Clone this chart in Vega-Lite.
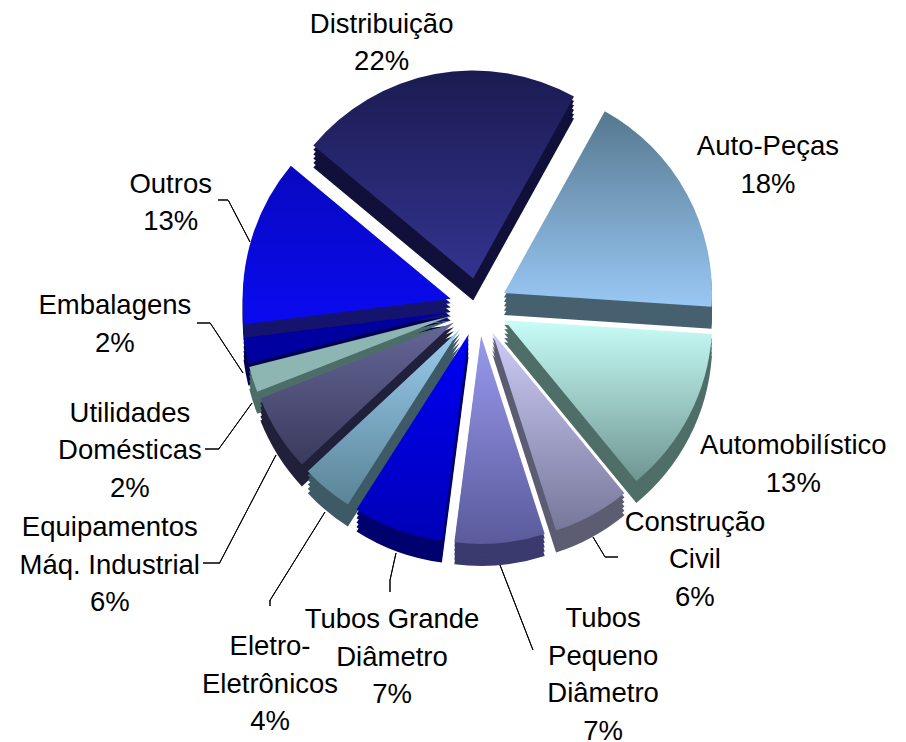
{"$schema":"https://vega.github.io/schema/vega-lite/v6.json","width":855,"height":614,"autosize":{"type":"none"},"padding":{"left":51,"top":0,"right":0,"bottom":128},"background":"white","view":{"stroke":null},
"data":{"values":[{"setor":"Auto-Peças","rotulo":"Auto-Peças","pct":18,"ordem":1},{"setor":"Automobilístico","rotulo":"Automobilístico","pct":13,"ordem":2},{"setor":"Construção Civil","rotulo":"Construção\nCivil","pct":6,"ordem":3},{"setor":"Tubos Pequeno Diâmetro","rotulo":"Tubos\nPequeno\nDiâmetro","pct":7,"ordem":4},{"setor":"Tubos Grande Diâmetro","rotulo":"Tubos Grande\nDiâmetro","pct":7,"ordem":5},{"setor":"Eletro-Eletrônicos","rotulo":"Eletro-\nEletrônicos","pct":4,"ordem":6},{"setor":"Equipamentos Máq. Industrial","rotulo":"Equipamentos\nMáq. Industrial","pct":6,"ordem":7},{"setor":"Utilidades Domésticas","rotulo":"Utilidades\nDomésticas","pct":2,"ordem":8},{"setor":"Embalagens","rotulo":"Embalagens","pct":2,"ordem":9},{"setor":"Outros","rotulo":"Outros","pct":13,"ordem":10},{"setor":"Distribuição","rotulo":"Distribuição","pct":22,"ordem":11}]},
"transform":[{"stack":"pct","groupby":[],"sort":[{"field":"ordem","order":"ascending"}],"as":["t0","t1"]},{"calculate":"(datum.t0+datum.t1)/2","as":"mid"},{"calculate":"datum.rotulo+'\\n'+datum.pct+'%'","as":"texto"}],
"layer":[
{"encoding":{"theta":{"field":"t0","type":"quantitative","scale":{"domain":[0,100],"range":[0.506,6.789]}},"theta2":{"field":"t1"},"radius":{"value":208}},
"layer":[
{"transform":[{"filter":"datum.ordem==11"}],"layer":[{"mark":{"type":"arc","xOffset":-5.3,"yOffset":-6.5,"fill":"#10103a"}},{"mark":{"type":"arc","xOffset":-5.3,"yOffset":-10.9,"fill":"#10103a"}},{"mark":{"type":"arc","xOffset":-5.3,"yOffset":-15.3,"fill":"#10103a"}},{"mark":{"type":"arc","xOffset":-5.3,"yOffset":-19.7,"fill":"#10103a"}},{"mark":{"type":"arc","xOffset":-5.3,"yOffset":-24.1,"fill":"#10103a"}},{"mark":{"type":"arc","xOffset":-5.3,"yOffset":-28.5,"fill":{"x1":0,"y1":0,"x2":0,"y2":1,"gradient":"linear","stops":[{"offset":0,"color":"#1b1b52"},{"offset":1,"color":"#33338f"}]}}}]},
{"transform":[{"filter":"datum.ordem==10"}],"layer":[{"mark":{"type":"arc","xOffset":-27.8,"yOffset":13.8,"fill":"#14146e"}},{"mark":{"type":"arc","xOffset":-27.8,"yOffset":9.4,"fill":"#14146e"}},{"mark":{"type":"arc","xOffset":-27.8,"yOffset":5,"fill":"#14146e"}},{"mark":{"type":"arc","xOffset":-27.8,"yOffset":0.6,"fill":"#14146e"}},{"mark":{"type":"arc","xOffset":-27.8,"yOffset":-3.8,"fill":"#14146e"}},{"mark":{"type":"arc","xOffset":-27.8,"yOffset":-8.2,"fill":{"x1":0,"y1":0,"x2":0,"y2":1,"gradient":"linear","stops":[{"offset":0,"color":"#0808c0"},{"offset":1,"color":"#0a0af0"}]}}}]},
{"transform":[{"filter":"datum.ordem==1"}],"layer":[{"mark":{"type":"arc","xOffset":25.5,"yOffset":8.1,"fill":"#46606f"}},{"mark":{"type":"arc","xOffset":25.5,"yOffset":3.7,"fill":"#46606f"}},{"mark":{"type":"arc","xOffset":25.5,"yOffset":-0.7,"fill":"#46606f"}},{"mark":{"type":"arc","xOffset":25.5,"yOffset":-5.1,"fill":"#46606f"}},{"mark":{"type":"arc","xOffset":25.5,"yOffset":-9.5,"fill":"#46606f"}},{"mark":{"type":"arc","xOffset":25.5,"yOffset":-13.9,"fill":{"x1":0,"y1":0,"x2":0,"y2":1,"gradient":"linear","stops":[{"offset":0,"color":"#56788f"},{"offset":1,"color":"#99c8f5"}]}}}]},
{"transform":[{"filter":"datum.ordem==9"}],"layer":[{"mark":{"type":"arc","xOffset":-28.5,"yOffset":27.3,"fill":"#000050"}},{"mark":{"type":"arc","xOffset":-28.5,"yOffset":22.9,"fill":"#000050"}},{"mark":{"type":"arc","xOffset":-28.5,"yOffset":18.5,"fill":"#000050"}},{"mark":{"type":"arc","xOffset":-28.5,"yOffset":14.1,"fill":"#000050"}},{"mark":{"type":"arc","xOffset":-28.5,"yOffset":9.7,"fill":"#000050"}},{"mark":{"type":"arc","xOffset":-28.5,"yOffset":5.3,"fill":"#0000a0"}}]},
{"transform":[{"filter":"datum.ordem==8"}],"layer":[{"mark":{"type":"arc","xOffset":-27.6,"yOffset":30.9,"fill":"#4d6d69"}},{"mark":{"type":"arc","xOffset":-27.6,"yOffset":26.5,"fill":"#4d6d69"}},{"mark":{"type":"arc","xOffset":-27.6,"yOffset":22.1,"fill":"#4d6d69"}},{"mark":{"type":"arc","xOffset":-27.6,"yOffset":17.7,"fill":"#4d6d69"}},{"mark":{"type":"arc","xOffset":-27.6,"yOffset":13.3,"fill":"#4d6d69"}},{"mark":{"type":"arc","xOffset":-27.6,"yOffset":8.9,"fill":"#8db5b1"}}]},
{"transform":[{"filter":"datum.ordem==2"}],"layer":[{"mark":{"type":"arc","xOffset":25.8,"yOffset":35.3,"fill":"#4f6e68"}},{"mark":{"type":"arc","xOffset":25.8,"yOffset":30.9,"fill":"#4f6e68"}},{"mark":{"type":"arc","xOffset":25.8,"yOffset":26.5,"fill":"#4f6e68"}},{"mark":{"type":"arc","xOffset":25.8,"yOffset":22.1,"fill":"#4f6e68"}},{"mark":{"type":"arc","xOffset":25.8,"yOffset":17.7,"fill":"#4f6e68"}},{"mark":{"type":"arc","xOffset":25.8,"yOffset":13.3,"fill":{"x1":0,"y1":0,"x2":0,"y2":1,"gradient":"linear","stops":[{"offset":0,"color":"#c8fdf8"},{"offset":1,"color":"#6f9690"}]}}}]},
{"transform":[{"filter":"datum.ordem==7"}],"layer":[{"mark":{"type":"arc","xOffset":-24.5,"yOffset":37.5,"fill":"#20203a"}},{"mark":{"type":"arc","xOffset":-24.5,"yOffset":33.1,"fill":"#20203a"}},{"mark":{"type":"arc","xOffset":-24.5,"yOffset":28.7,"fill":"#20203a"}},{"mark":{"type":"arc","xOffset":-24.5,"yOffset":24.3,"fill":"#20203a"}},{"mark":{"type":"arc","xOffset":-24.5,"yOffset":19.9,"fill":"#20203a"}},{"mark":{"type":"arc","xOffset":-24.5,"yOffset":15.5,"fill":{"x1":0,"y1":0,"x2":0,"y2":1,"gradient":"linear","stops":[{"offset":0,"color":"#666699"},{"offset":1,"color":"#3a3a5c"}]}}}]},
{"transform":[{"filter":"datum.ordem==6"}],"layer":[{"mark":{"type":"arc","xOffset":-18.6,"yOffset":44.3,"fill":"#3d5a66"}},{"mark":{"type":"arc","xOffset":-18.6,"yOffset":39.9,"fill":"#3d5a66"}},{"mark":{"type":"arc","xOffset":-18.6,"yOffset":35.5,"fill":"#3d5a66"}},{"mark":{"type":"arc","xOffset":-18.6,"yOffset":31.1,"fill":"#3d5a66"}},{"mark":{"type":"arc","xOffset":-18.6,"yOffset":26.7,"fill":"#3d5a66"}},{"mark":{"type":"arc","xOffset":-18.6,"yOffset":22.3,"fill":{"x1":0,"y1":0,"x2":0,"y2":1,"gradient":"linear","stops":[{"offset":0,"color":"#99ccee"},{"offset":1,"color":"#5a8496"}]}}}]},
{"transform":[{"filter":"datum.ordem==3"}],"layer":[{"mark":{"type":"arc","xOffset":13.9,"yOffset":47.5,"fill":"#5c5c72"}},{"mark":{"type":"arc","xOffset":13.9,"yOffset":43.1,"fill":"#5c5c72"}},{"mark":{"type":"arc","xOffset":13.9,"yOffset":38.7,"fill":"#5c5c72"}},{"mark":{"type":"arc","xOffset":13.9,"yOffset":34.3,"fill":"#5c5c72"}},{"mark":{"type":"arc","xOffset":13.9,"yOffset":29.9,"fill":"#5c5c72"}},{"mark":{"type":"arc","xOffset":13.9,"yOffset":25.5,"fill":{"x1":0,"y1":0,"x2":0,"y2":1,"gradient":"linear","stops":[{"offset":0,"color":"#ccccf8"},{"offset":1,"color":"#77779a"}]}}}]},
{"transform":[{"filter":"datum.ordem==5"}],"layer":[{"mark":{"type":"arc","xOffset":-9.9,"yOffset":49.3,"fill":"#00006e"}},{"mark":{"type":"arc","xOffset":-9.9,"yOffset":44.9,"fill":"#00006e"}},{"mark":{"type":"arc","xOffset":-9.9,"yOffset":40.5,"fill":"#00006e"}},{"mark":{"type":"arc","xOffset":-9.9,"yOffset":36.1,"fill":"#00006e"}},{"mark":{"type":"arc","xOffset":-9.9,"yOffset":31.7,"fill":"#00006e"}},{"mark":{"type":"arc","xOffset":-9.9,"yOffset":27.3,"fill":{"x1":0,"y1":0,"x2":0,"y2":1,"gradient":"linear","stops":[{"offset":0,"color":"#0000f5"},{"offset":1,"color":"#0000b8"}]}}}]},
{"transform":[{"filter":"datum.ordem==4"}],"layer":[{"mark":{"type":"arc","xOffset":2.6,"yOffset":50.9,"fill":"#3a3a6e"}},{"mark":{"type":"arc","xOffset":2.6,"yOffset":46.5,"fill":"#3a3a6e"}},{"mark":{"type":"arc","xOffset":2.6,"yOffset":42.1,"fill":"#3a3a6e"}},{"mark":{"type":"arc","xOffset":2.6,"yOffset":37.7,"fill":"#3a3a6e"}},{"mark":{"type":"arc","xOffset":2.6,"yOffset":33.3,"fill":"#3a3a6e"}},{"mark":{"type":"arc","xOffset":2.6,"yOffset":28.9,"fill":{"x1":0,"y1":0,"x2":0,"y2":1,"gradient":"linear","stops":[{"offset":0,"color":"#9999ee"},{"offset":1,"color":"#5a5a9c"}]}}}]}
]},
{"encoding":{"theta":{"field":"mid","type":"quantitative"},"text":{"field":"texto"}},
"layer":[
{"transform":[{"filter":"datum.ordem==11"}],"mark":{"type":"text","font":"Liberation Sans","fontSize":27.5,"lineHeight":37.5,"lineBreak":"\n","align":"center","baseline":"middle","color":"black","dx":-47.5,"dy":-18.75},"encoding":{"radius":{"value":268}}},
{"transform":[{"filter":"datum.ordem==1"}],"mark":{"type":"text","font":"Liberation Sans","fontSize":27.5,"lineHeight":37.5,"lineBreak":"\n","align":"center","baseline":"middle","color":"black","dx":8.5,"dy":-6.75},"encoding":{"radius":{"value":320}}},
{"transform":[{"filter":"datum.ordem==2"}],"mark":{"type":"text","font":"Liberation Sans","fontSize":27.5,"lineHeight":37.5,"lineBreak":"\n","align":"center","baseline":"middle","color":"black","dx":3.5,"dy":-20.75},"encoding":{"radius":{"value":350}}},
{"transform":[{"filter":"datum.ordem==3"}],"mark":{"type":"text","font":"Liberation Sans","fontSize":27.5,"lineHeight":37.5,"lineBreak":"\n","align":"center","baseline":"middle","color":"black","dx":68,"dy":-56.5},"encoding":{"radius":{"value":310}}},
{"transform":[{"filter":"datum.ordem==4"}],"mark":{"type":"text","font":"Liberation Sans","fontSize":27.5,"lineHeight":37.5,"lineBreak":"\n","align":"center","baseline":"middle","color":"black","dx":91,"dy":-56.25},"encoding":{"radius":{"value":370}}},
{"transform":[{"filter":"datum.ordem==5"}],"mark":{"type":"text","font":"Liberation Sans","fontSize":27.5,"lineHeight":37.5,"lineBreak":"\n","align":"center","baseline":"middle","color":"black","dx":40,"dy":-34.5},"encoding":{"radius":{"value":370}}},
{"transform":[{"filter":"datum.ordem==6"}],"mark":{"type":"text","font":"Liberation Sans","fontSize":27.5,"lineHeight":37.5,"lineBreak":"\n","align":"center","baseline":"middle","color":"black","dx":79.5,"dy":-5.5},"encoding":{"radius":{"value":450}}},
{"transform":[{"filter":"datum.ordem==7"}],"mark":{"type":"text","font":"Liberation Sans","fontSize":27.5,"lineHeight":37.5,"lineBreak":"\n","align":"center","baseline":"middle","color":"black","dx":12,"dy":-18.5},"encoding":{"radius":{"value":450}}},
{"transform":[{"filter":"datum.ordem==8"}],"mark":{"type":"text","font":"Liberation Sans","fontSize":27.5,"lineHeight":37.5,"lineBreak":"\n","align":"center","baseline":"middle","color":"black","dx":3.7,"dy":-6.5},"encoding":{"radius":{"value":370}}},
{"transform":[{"filter":"datum.ordem==9"}],"mark":{"type":"text","font":"Liberation Sans","fontSize":27.5,"lineHeight":37.5,"lineBreak":"\n","align":"center","baseline":"middle","color":"black","dx":0,"dy":-68.75},"encoding":{"radius":{"value":370}}},
{"transform":[{"filter":"datum.ordem==10"}],"mark":{"type":"text","font":"Liberation Sans","fontSize":27.5,"lineHeight":37.5,"lineBreak":"\n","align":"center","baseline":"middle","color":"black","dx":4,"dy":-30.75},"encoding":{"radius":{"value":325}}}
]},
{"transform":[{"filter":"datum.ordem==10"}],"layer":[
{"mark":{"type":"arc","xOffset":-228.5,"yOffset":-65,"stroke":"black","strokeWidth":1,"fill":null},"encoding":{"theta":{"datum":84.3,"type":"quantitative"},"theta2":{"datum":84.32},"radius":{"value":47}}},
{"mark":{"type":"arc","xOffset":-250.5,"yOffset":-107,"stroke":"black","strokeWidth":1,"fill":null},"encoding":{"theta":{"datum":66.94,"type":"quantitative"},"theta2":{"datum":66.96},"radius":{"value":10}}},
{"mark":{"type":"arc","xOffset":-235.5,"yOffset":66,"stroke":"black","strokeWidth":1,"fill":null},"encoding":{"theta":{"datum":82.7,"type":"quantitative"},"theta2":{"datum":82.72},"radius":{"value":60}}},
{"mark":{"type":"arc","xOffset":-268.5,"yOffset":16,"stroke":"black","strokeWidth":1,"fill":null},"encoding":{"theta":{"datum":66.94,"type":"quantitative"},"theta2":{"datum":66.96},"radius":{"value":13}}},
{"mark":{"type":"arc","xOffset":-226.5,"yOffset":96,"stroke":"black","strokeWidth":1,"fill":null},"encoding":{"theta":{"datum":51.9,"type":"quantitative"},"theta2":{"datum":51.92},"radius":{"value":56.6}}},
{"mark":{"type":"arc","xOffset":-259.5,"yOffset":142,"stroke":"black","strokeWidth":1,"fill":null},"encoding":{"theta":{"datum":66.94,"type":"quantitative"},"theta2":{"datum":66.96},"radius":{"value":14}}},
{"mark":{"type":"arc","xOffset":-202.5,"yOffset":148,"stroke":"black","strokeWidth":1,"fill":null},"encoding":{"theta":{"datum":49.6,"type":"quantitative"},"theta2":{"datum":49.62},"radius":{"value":122}}},
{"mark":{"type":"arc","xOffset":-258.5,"yOffset":256,"stroke":"black","strokeWidth":1,"fill":null},"encoding":{"theta":{"datum":66.94,"type":"quantitative"},"theta2":{"datum":66.96},"radius":{"value":17}}},
{"mark":{"type":"arc","xOffset":-153.5,"yOffset":205,"stroke":"black","strokeWidth":1,"fill":null},"encoding":{"theta":{"datum":50.8,"type":"quantitative"},"theta2":{"datum":50.82},"radius":{"value":104}}},
{"mark":{"type":"arc","xOffset":-208.5,"yOffset":293,"stroke":"black","strokeWidth":1,"fill":null},"encoding":{"theta":{"datum":41.94,"type":"quantitative"},"theta2":{"datum":41.96},"radius":{"value":6}}},
{"mark":{"type":"arc","xOffset":-82.5,"yOffset":246,"stroke":"black","strokeWidth":1,"fill":null},"encoding":{"theta":{"datum":45.4,"type":"quantitative"},"theta2":{"datum":45.42},"radius":{"value":27.7}}},
{"mark":{"type":"arc","xOffset":-88.5,"yOffset":273,"stroke":"black","strokeWidth":1,"fill":null},"encoding":{"theta":{"datum":41.94,"type":"quantitative"},"theta2":{"datum":41.96},"radius":{"value":12}}},
{"mark":{"type":"arc","xOffset":21.5,"yOffset":258,"stroke":"black","strokeWidth":1,"fill":null},"encoding":{"theta":{"datum":36.05,"type":"quantitative"},"theta2":{"datum":36.07},"radius":{"value":91}}},
{"mark":{"type":"arc","xOffset":114.5,"yOffset":230,"stroke":"black","strokeWidth":1,"fill":null},"encoding":{"theta":{"datum":33.3,"type":"quantitative"},"theta2":{"datum":33.32},"radius":{"value":23.3}}},
{"mark":{"type":"arc","xOffset":126.5,"yOffset":250,"stroke":"black","strokeWidth":1,"fill":null},"encoding":{"theta":{"datum":16.94,"type":"quantitative"},"theta2":{"datum":16.96},"radius":{"value":13}}}
]}
]}
